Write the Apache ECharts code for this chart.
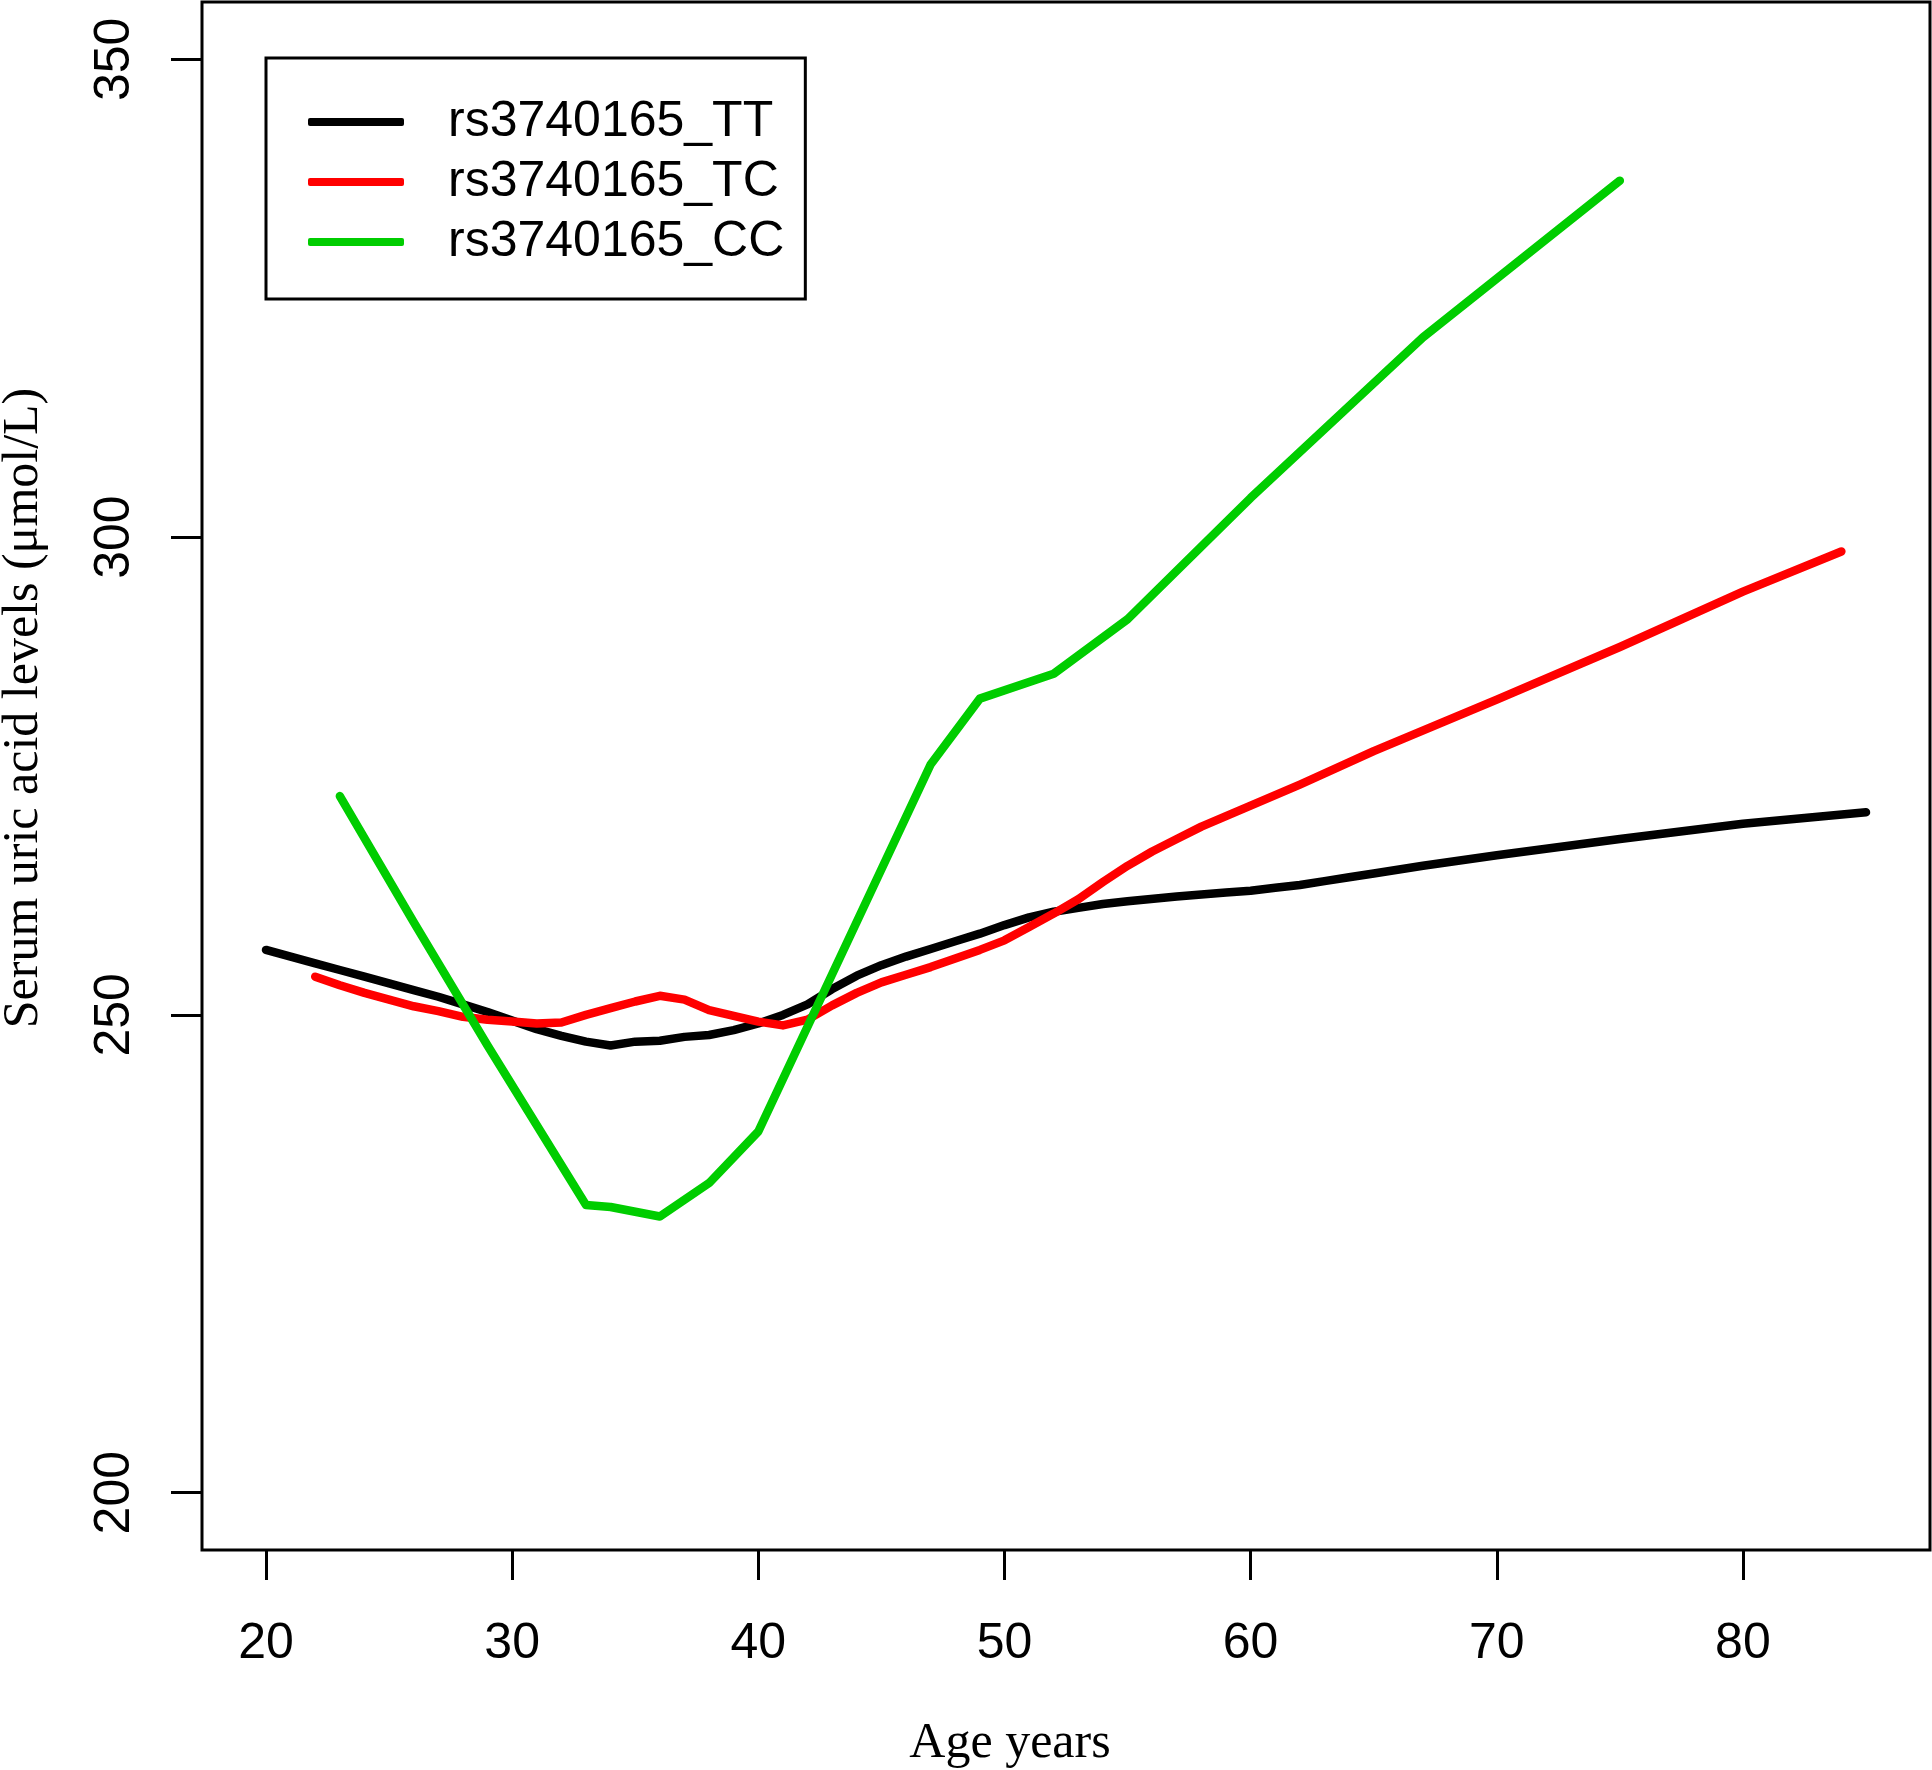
<!DOCTYPE html>
<html>
<head>
<meta charset="utf-8">
<script src="https://cdn.jsdelivr.net/npm/echarts@6/dist/echarts.min.js"></script>
<style>
html,body{margin:0;padding:0;background:#fff;}
#chart{width:1932px;height:1770px;}
</style>
</head>
<body>
<div id="chart"></div>
<script>
// ---- data ----
const seriesNames = ['rs3740165_TT', 'rs3740165_TC', 'rs3740165_CC'];
const seriesColors = ['#000000', '#FF0000', '#00CD00'];

const ageTT = [20,21,22,23,24,25,26,27,28,29,30,31,32,33,34,35,36,37,38,39,40,41,42,43,44,45,46,47,48,49,50,51,52,53,54,55,57,59,60,61,62,63,64,65,67,70,75,80,85];
const valTT = [256.8,256.1,255.4,254.7,254.0,253.3,252.6,251.9,251.1,250.3,249.4,248.5,247.8,247.2,246.8,247.2,247.3,247.7,247.9,248.4,249.1,250.0,251.1,252.7,254.1,255.2,256.1,256.9,257.7,258.5,259.4,260.2,260.8,261.2,261.6,261.9,262.4,262.8,263.0,263.3,263.6,264.0,264.4,264.8,265.6,266.7,268.4,270.0,271.2];

const ageTC = [22,23,24,25,26,27,28,29,30,31,32,33,34,35,36,37,38,39,40,41,42,43,44,45,46,47,48,49,50,51,52,53,54,55,56,57,58,59,60,62,65,70,75,80,84];
const valTC = [254.0,253.1,252.3,251.6,250.9,250.4,249.8,249.5,249.3,249.1,249.2,250.0,250.7,251.4,252.0,251.6,250.5,249.9,249.3,248.9,249.5,251.0,252.3,253.4,254.2,255.0,255.9,256.8,257.8,259.2,260.6,262.1,263.9,265.6,267.1,268.4,269.7,270.8,271.9,274.1,277.6,283.0,288.5,294.3,298.5];

const ageCC = [23,26,29,33,34,36,38,40,47,49,52,55,60,67,75];
const valCC = [272.9,259.7,246.8,230.1,229.9,228.9,232.4,237.8,276.2,283.1,285.7,291.4,304.1,320.9,337.3];

const xTicks = [20,30,40,50,60,70,80];
const yTicks = [200,250,300,350];

const xTitle = 'Age years';
const yTitle = 'Serum uric acid levels (\u03bcmol/L)';

// ---- build ----
const ages = [ageTT, ageTC, ageCC];
const vals = [valTT, valTC, valCC];

const chart = echarts.init(document.getElementById('chart'), null, {renderer: 'canvas'});

const series = seriesNames.map((name, i) => ({
  name: name,
  type: 'line',
  data: ages[i].map((a, j) => [a, vals[i][j]]),
  showSymbol: false,
  symbol: 'none',
  smooth: false,
  clip: true,
  lineStyle: {color: seriesColors[i], width: 8.5, cap: 'round', join: 'round'},
  itemStyle: {color: seriesColors[i]},
  emphasis: {disabled: true},
  animation: false
}));

const sans = 'Liberation Sans, Arial, Helvetica, sans-serif';
const serif = 'Liberation Serif, Times New Roman, serif';

chart.setOption({
  backgroundColor: '#ffffff',
  animation: false,
  grid: {
    left: 202, right: 2, top: 2, bottom: 220,
    show: true, borderColor: '#000', borderWidth: 3, backgroundColor: 'transparent',
    containLabel: false
  },
  xAxis: {
    type: 'value',
    min: 17.4, max: 87.6,
    splitLine: {show: false},
    axisLine: {show: false},
    axisTick: {show: true, inside: false, length: 30, customValues: xTicks,
      lineStyle: {color: '#000', width: 3}},
    axisLabel: {show: true, customValues: xTicks, margin: 69,
      color: '#000', fontSize: 50, fontFamily: sans}
  },
  yAxis: {
    type: 'value',
    min: 194, max: 356,
    splitLine: {show: false},
    axisLine: {show: false},
    axisTick: {show: true, inside: false, length: 31, customValues: yTicks,
      lineStyle: {color: '#000', width: 3}},
    axisLabel: {show: true, customValues: yTicks, rotate: 90, margin: 62,
      color: '#000', fontSize: 50, fontFamily: sans}
  },
  legend: {
    show: true,
    orient: 'vertical',
    left: 266, top: 58,
    padding: [34, 21, 27, 42],
    borderColor: '#000', borderWidth: 3, backgroundColor: '#fff',
    itemWidth: 96, itemHeight: 8, itemGap: 0,
    icon: 'roundRect',
    selectedMode: false,
    textStyle: {fontSize: 50, fontFamily: sans, color: '#000', lineHeight: 60,
      padding: [0, 0, 0, 39]},
    data: seriesNames.map((n, i) => ({name: n, itemStyle: {color: seriesColors[i]}}))
  },
  graphic: [
    {type: 'text', x: 1010, y: 1744,
      style: {text: xTitle, fill: '#000', font: '50px ' + serif,
        textAlign: 'center', textVerticalAlign: 'middle'}},
    {type: 'text', x: 24, y: 708, rotation: Math.PI / 2,
      style: {text: yTitle, fill: '#000', font: '50px ' + serif,
        textAlign: 'center', textVerticalAlign: 'middle'}}
  ],
  series: series
});
</script>
</body>
</html>
